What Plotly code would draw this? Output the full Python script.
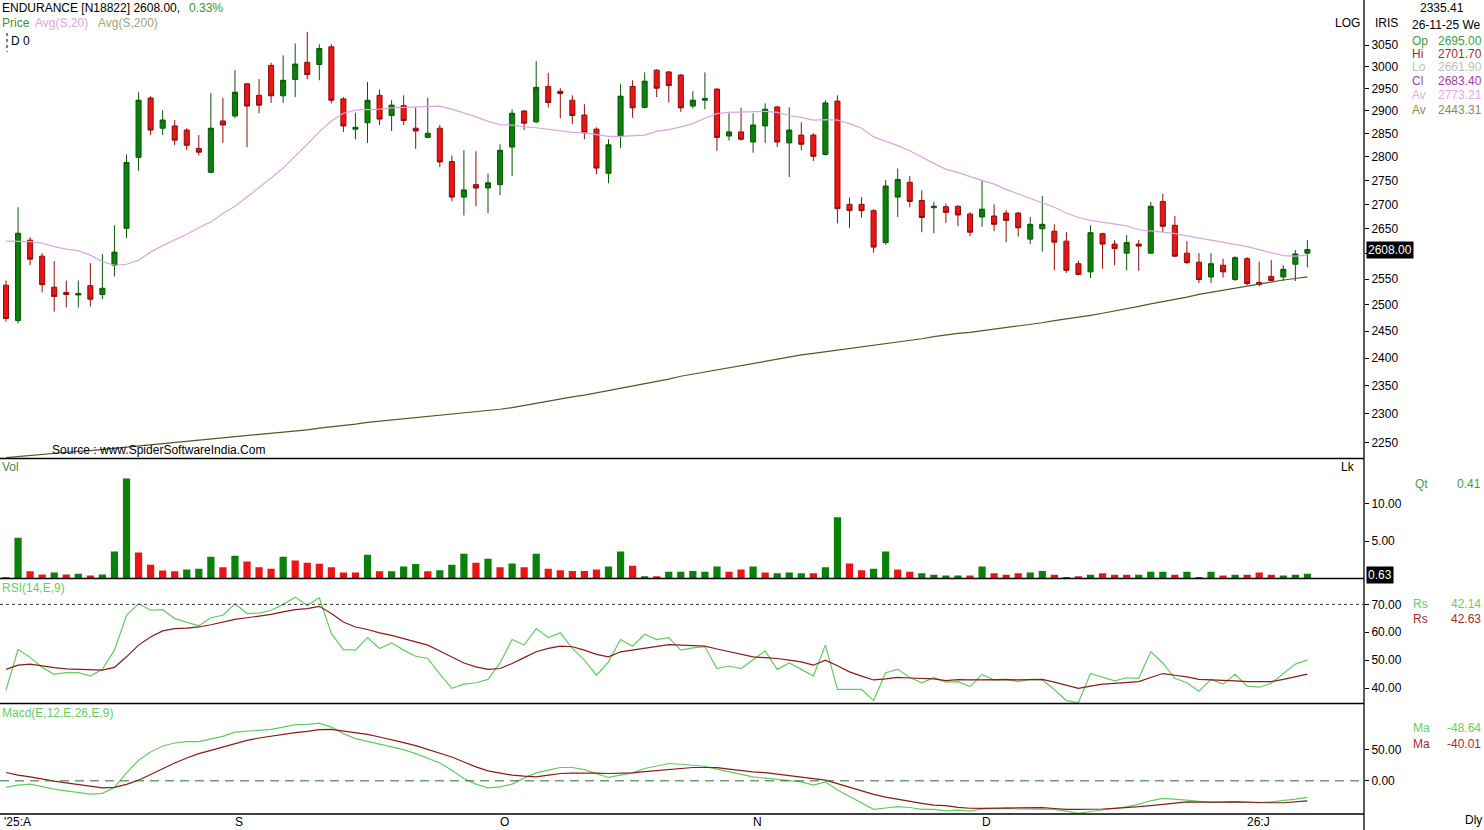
import plotly.graph_objects as go

W, H = 1484, 830

# ---------------- data ----------------
opens = [2538, 2470, 2627, 2595, 2534, 2524, 2519, 2537, 2520, 2577,
         2651, 2799, 2929, 2862, 2867, 2858, 2818, 2767, 2878, 2889,
         2961, 2935, 3003, 2934, 2971, 3010, 3005, 3046, 2927, 2860,
         2874, 2935, 2890, 2912, 2862, 2842, 2862, 2790, 2715, 2741,
         2734, 2741, 2821, 2900, 2876, 2955, 2944, 2924, 2891, 2860,
         2765, 2845, 2955, 2908, 2992, 2988, 2981, 2911, 2924, 2949,
         2845, 2854, 2832, 2867, 2909, 2830, 2847, 2847, 2805, 2922,
         2700, 2700, 2687, 2622, 2715, 2746, 2708, 2693, 2695.0, 2696,
         2680, 2674, 2676, 2682, 2682, 2629, 2650, 2645, 2625, 2580,
         2564, 2640, 2619, 2601, 2619, 2601, 2706, 2657, 2601, 2583,
         2554, 2577, 2549, 2590, 2543, 2555, 2554, 2579, 2601]
highs = [2547, 2694, 2633, 2601, 2585, 2547, 2547, 2581, 2599, 2657,
         2805, 2942, 2933, 2902, 2880, 2862, 2847, 2940, 2929, 2992,
         2962, 2972, 3009, 3026, 3054, 3081, 3052, 3052, 2931, 2896,
         2965, 2948, 2924, 2935, 2908, 2930, 2869, 2803, 2814, 2812,
         2764, 2827, 2904, 2902, 3013, 2986, 2951, 2935, 2915, 2864,
         2838, 2960, 2969, 2987, 2994, 2990, 2983, 2944, 2987, 2951,
         2895, 2907, 2895, 2917, 2911, 2908, 2875, 2851, 2924, 2935,
         2714, 2715, 2690, 2751, 2775, 2759, 2729, 2705, 2701.7, 2698,
         2684, 2750, 2700, 2688, 2684, 2674, 2717, 2659, 2643, 2586,
         2657, 2642, 2627, 2637, 2627, 2705, 2722, 2676, 2625, 2601,
         2601, 2590, 2595, 2593, 2584, 2587, 2577, 2607, 2627]
lows = [2468, 2465, 2577, 2524, 2487, 2495, 2495, 2497, 2511, 2555,
        2631, 2770, 2847, 2847, 2825, 2814, 2803, 2765, 2830, 2884,
        2821, 2895, 2918, 2918, 2931, 2971, 2969, 2917, 2854, 2838,
        2830, 2869, 2856, 2869, 2817, 2840, 2778, 2706, 2677, 2696,
        2682, 2719, 2759, 2858, 2873, 2908, 2884, 2871, 2838, 2763,
        2744, 2819, 2885, 2906, 2931, 2919, 2898, 2906, 2904, 2813,
        2835, 2835, 2809, 2830, 2821, 2757, 2814, 2791, 2803, 2661,
        2652, 2673, 2602, 2618, 2674, 2694, 2643, 2641, 2661.9, 2655,
        2635, 2654, 2645, 2623, 2634, 2619, 2604, 2567, 2562, 2557,
        2552, 2570, 2577, 2567, 2566, 2599, 2643, 2593, 2579, 2542,
        2542, 2553, 2546, 2538, 2536, 2546, 2546, 2546, 2573]
closes = [2474, 2641, 2589, 2539, 2516, 2520, 2522, 2511, 2532, 2603,
          2788, 2924, 2858, 2880, 2836, 2825, 2810, 2862, 2869, 2942,
          2911, 2913, 2934, 2969, 3006, 2982, 3042, 2924, 2867, 2864,
          2924, 2882, 2913, 2879, 2856, 2851, 2789, 2715, 2730, 2734,
          2745, 2814, 2895, 2873, 2953, 2919, 2939, 2890, 2852, 2776,
          2826, 2933, 2907, 2967, 2951, 2957, 2907, 2924, 2928, 2842,
          2854, 2838, 2869, 2904, 2832, 2858, 2827, 2801, 2918, 2691,
          2687, 2687, 2613, 2738, 2752, 2706, 2673, 2696, 2683.4, 2678,
          2643, 2690, 2659, 2667, 2652, 2659, 2659, 2623, 2567, 2559,
          2642, 2619, 2610, 2622, 2615, 2696, 2655, 2595, 2582, 2549,
          2580, 2564, 2592, 2541, 2539, 2547, 2569, 2599.4, 2608.0]

sma20 = [2625, 2625, 2624, 2621, 2614, 2609, 2606, 2597, 2584, 2577,
         2579, 2587, 2603, 2616, 2627, 2639, 2652, 2664, 2681, 2696,
         2715, 2734, 2755, 2776, 2801, 2827, 2854, 2878, 2895, 2902,
         2903, 2904, 2907, 2908, 2908, 2909, 2911, 2904, 2896, 2887,
         2877, 2870, 2869, 2865, 2863, 2860, 2856, 2853, 2852, 2848,
         2844, 2844, 2845, 2847, 2855, 2859, 2865, 2872, 2884, 2894,
         2897, 2898, 2899, 2899, 2897, 2890, 2886, 2880, 2881, 2880,
         2872, 2862, 2843, 2834, 2824, 2813, 2799, 2786, 2773.21, 2767,
         2758, 2750, 2742, 2731, 2722, 2712, 2703, 2694, 2682, 2673,
         2667, 2663, 2659, 2656, 2648, 2646, 2643, 2640, 2635, 2631,
         2627, 2623, 2619, 2614, 2608, 2602, 2596, 2595, 2597]
sma200 = [2224, 2226, 2227, 2229, 2231, 2233, 2235, 2236, 2238, 2240,
          2242, 2244, 2246, 2248, 2250, 2251, 2253, 2255, 2257, 2259,
          2261, 2263, 2265, 2268, 2270, 2272, 2275, 2277, 2280, 2282,
          2285, 2287, 2290, 2292, 2294, 2296, 2298, 2300, 2302, 2304,
          2306, 2308, 2311, 2315, 2318, 2322, 2326, 2330, 2333, 2337,
          2341, 2345, 2350, 2354, 2358, 2362, 2367, 2371, 2375, 2379,
          2383, 2387, 2391, 2395, 2399, 2402, 2406, 2409, 2412, 2415,
          2418, 2420, 2423, 2426, 2429, 2433, 2436, 2440, 2443.31, 2446,
          2448, 2451, 2453, 2456, 2459, 2463, 2466, 2470, 2473, 2477,
          2480, 2484, 2488, 2493, 2497, 2502, 2506, 2511, 2515, 2520,
          2524, 2528, 2533, 2537, 2541, 2544, 2548, 2551, 2554]

volume = [0.2, 5.47, 0.97, 0.53, 0.79, 0.53, 0.62, 0.40, 0.53, 3.62,
          13.4, 3.48, 1.85, 1.06, 0.97, 1.19, 1.32, 2.91, 1.50, 3.05,
          2.29, 1.50, 1.32, 2.91, 2.42, 2.12, 1.99, 1.50, 0.79, 0.79,
          3.18, 0.97, 0.97, 1.59, 1.95, 0.97, 1.10, 1.85, 3.31, 2.12,
          2.65, 1.50, 2.0, 1.5, 3.3, 1.3, 1.1, 1.0, 1.0, 1.2,
          1.6, 3.6, 1.7, 0.3, 0.3, 0.9, 0.9, 1.0, 0.9, 1.6,
          0.9, 1.2, 1.6, 0.8, 0.7, 0.8, 0.7, 0.7, 1.5, 8.2,
          2.0, 1.1, 1.3, 3.6, 1.2, 0.9, 0.7, 0.5, 0.41, 0.4,
          0.4, 1.6, 0.7, 0.5, 0.7, 0.8, 1.0, 0.5, 0.2, 0.3,
          0.5, 0.7, 0.5, 0.5, 0.5, 0.9, 0.9, 0.5, 0.9, 0.2,
          0.9, 0.4, 0.5, 0.5, 0.8, 0.5, 0.4, 0.5, 0.63]
volume_dir = list("RGRRGRGRGG" "GRRRRGGGRG" "RRRGRRRRRR" "GRGGGRGGGR" "GR"
                  "GRGRRRRRGG" "RGRGGGGGRR" "GRGGGRGGRR" "GGRRGGGGRG"
                  "RRRGGRRRGR" "RRGGGRGGGR" "GRRRGGG")

rsi = [39.3, 53.8, 51.0, 47.4, 44.9, 45.5, 45.5, 44.3, 46.7, 53.6,
       66.1, 70.2, 67.9, 68.1, 64.9, 63.7, 62.3, 65.2, 66.1, 70.2,
       66.7, 66.9, 67.9, 70.0, 72.6, 69.6, 72.4, 59.5, 53.8, 53.6,
       58.1, 54.2, 56.2, 53.6, 51.4, 50.6, 45.0, 39.9, 41.4, 41.9,
       43.1, 49.0, 57.4, 55.4, 61.3, 58.1, 59.8, 54.2, 50.0, 44.6,
       49.4, 57.4, 55.0, 59.3, 57.4, 58.1, 53.6, 54.4, 54.8, 47.0,
       47.9, 47.0, 50.2, 53.3, 46.7, 49.0, 46.7, 44.3, 55.4, 39.5,
       39.5, 39.5, 35.5, 45.5, 46.7, 43.8, 41.9, 43.7, 42.14, 42.3,
       40.5, 44.9, 42.9, 43.2, 42.3, 43.1, 42.9, 39.5, 35.5, 34.8,
       45.2, 44.0, 42.6, 43.7, 43.5, 53.0, 49.0, 43.5, 41.9, 38.9,
       43.1, 41.4, 44.9, 40.7, 40.3, 41.7, 45.2, 48.6, 50.0]
rsi_signal = [46.7, 48.2, 48.6, 47.9, 47.3, 46.9, 46.7, 46.4, 46.4, 47.4,
              51.2, 55.4, 58.3, 60.5, 61.3, 61.5, 61.9, 62.7, 63.7, 64.6,
              65.2, 65.7, 66.4, 67.3, 68.1, 68.5, 69.3, 66.7, 63.7, 61.9,
              61.0, 59.8, 58.9, 57.7, 56.5, 55.4, 53.3, 51.0, 49.0, 47.6,
              46.7, 47.0, 48.8, 50.9, 53.0, 54.2, 55.0, 54.8, 53.6, 52.1,
              51.2, 53.0, 53.6, 54.2, 54.9, 55.6, 55.4, 55.2, 55.0, 54.0,
              53.0, 52.1, 51.2, 50.9, 50.6, 50.0, 49.4, 48.2, 50.0, 48.0,
              45.8, 44.3, 42.9, 43.3, 43.8, 43.6, 43.5, 43.3, 42.63, 43.0,
              42.9, 43.0, 43.1, 43.0, 42.9, 43.0, 43.1, 42.1, 41.1, 39.9,
              40.7, 41.4, 41.7, 41.9, 42.3, 43.8, 45.2, 44.6, 44.0, 43.1,
              43.0, 42.9, 42.6, 42.3, 42.3, 42.3, 43.1, 44.0, 45.0]

macd = [-10.6, -6.9, -5.3, -9.7, -13.4, -16.1, -18.7, -21.5, -20.3, -10.6,
        12.9, 33.4, 46.8, 56.5, 61.3, 63.5, 63.5, 68.4, 72.1, 79.0,
        80.6, 81.8, 83.4, 87.1, 91.0, 91.5, 93.5, 87.1, 76.5, 68.4,
        64.0, 59.2, 54.8, 50.6, 44.2, 37.1, 29.0, 17.3, 3.9, -5.3,
        -11.3, -9.7, -5.3, 4.4, 12.9, 17.3, 21.6, 21.6, 18.1, 11.6,
        5.5, 9.2, 12.9, 20.0, 24.0, 28.1, 26.9, 25.3, 23.7, 18.9,
        14.5, 10.5, 6.5, 4.4, 2.3, 0.3, -1.6, -6.9, -1.6, -15.0,
        -25.8, -36.0, -46.1, -44.0, -41.9, -43.2, -46.1, -46.1, -48.64, -47.3,
        -48.9, -45.6, -45.0, -44.5, -45.6, -46.1, -46.1, -46.1, -48.9, -52.6,
        -49.7, -47.3, -44.0, -41.9, -37.6, -32.3, -28.4, -29.5, -31.1, -33.1,
        -34.8, -34.4, -33.9, -34.7, -35.5, -33.9, -32.3, -29.5, -26.8]
macd_signal = [13.5, 9.2, 6.5, 2.7, -0.5, -3.2, -5.8, -8.5, -11.3, -10.6,
               -5.8, 1.1, 10.8, 20.0, 29.0, 37.1, 44.2, 49.5, 54.8, 60.3,
               65.6, 69.4, 72.6, 75.3, 78.1, 80.2, 82.9, 83.4, 80.6, 79.0,
               75.3, 71.0, 66.8, 61.9, 57.1, 51.1, 44.2, 38.7, 30.6, 22.6,
               16.1, 12.9, 9.2, 7.6, 6.5, 9.2, 11.9, 12.4, 12.9, 12.4,
               11.9, 12.4, 12.9, 14.8, 16.5, 18.4, 20.0, 21.6, 21.6, 21.3,
               18.9, 16.1, 14.5, 13.2, 10.8, 9.2, 6.8, 3.9, 1.1, -4.5,
               -10.6, -16.6, -21.9, -26.3, -30.0, -33.2, -36.5, -39.2, -40.01, -42.9,
               -44.4, -44.5, -44.5, -44.5, -44.5, -44.0, -43.5, -44.8, -46.1, -46.1,
               -46.1, -45.6, -44.5, -43.5, -41.9, -40.0, -37.6, -36.0, -33.9, -34.4,
               -34.8, -34.4, -33.9, -34.7, -35.5, -35.5, -35.5, -33.9, -32.3]

month_labels = ["'25:A", "S", "O", "N", "D", "26:J"]
month_index = [0, 19, 41, 62, 81, 103]

price_ticks = list(range(2250, 3051, 50))
vol_ticks = [5, 10]
rsi_ticks = [40, 50, 60, 70]
macd_ticks = [0, 50]

# ---------------- layout helpers ----------------
idx = list(range(len(opens)))
XEND = 1364  # pixel x of right axis line


def px(x):
    return x / W


def py(y):
    return 1 - y / H


FONT = "Tahoma, Liberation Sans, Arial, sans-serif"
GREEN = "#0a820a"
RED = "#ee1414"

fig = go.Figure()

fig.add_trace(go.Candlestick(
    x=idx, open=opens, high=highs, low=lows, close=closes,
    increasing=dict(line=dict(color="#0b560b", width=1), fillcolor=GREEN),
    decreasing=dict(line=dict(color="#8c0e0e", width=1), fillcolor=RED),
    whiskerwidth=0, xaxis="x", yaxis="y", showlegend=False))
fig.add_trace(go.Scatter(x=idx, y=sma20, mode="lines", line=dict(color="#d8a6de", width=1.2),
                         xaxis="x", yaxis="y", hoverinfo="skip"))
fig.add_trace(go.Scatter(x=idx, y=sma200, mode="lines", line=dict(color="#4f5a28", width=1.2),
                         xaxis="x", yaxis="y", hoverinfo="skip"))

vol_colors = [GREEN if d == "G" else RED for d in volume_dir]
fig.add_trace(go.Bar(x=idx, y=volume, marker=dict(color=vol_colors, line=dict(width=0)),
                     width=0.6, xaxis="x", yaxis="y2"))

fig.add_trace(go.Scatter(x=idx, y=rsi, mode="lines", line=dict(color="#62cc62", width=1.2),
                         xaxis="x", yaxis="y3"))
fig.add_trace(go.Scatter(x=idx, y=rsi_signal, mode="lines", line=dict(color="#8b1a1a", width=1.2),
                         xaxis="x", yaxis="y3"))
fig.add_trace(go.Scatter(x=idx, y=macd, mode="lines", line=dict(color="#62cc62", width=1.2),
                         xaxis="x", yaxis="y4"))
fig.add_trace(go.Scatter(x=idx, y=macd_signal, mode="lines", line=dict(color="#8b1a1a", width=1.2),
                         xaxis="x", yaxis="y4"))

XD = XEND / W
x_per = 12.05
xr = [-6 / x_per, (XEND - 6) / x_per]

axis_common = dict(side="right", anchor="x", showgrid=False, zeroline=False, showline=False,
                   ticks="outside", ticklen=4, tickcolor="black",
                   tickfont=dict(family=FONT, size=12, color="black"), fixedrange=True)

fig.update_layout(
    width=W, height=H, margin=dict(l=0, r=0, t=0, b=0),
    paper_bgcolor="white", plot_bgcolor="white", showlegend=False,
    boxgap=0.4,
    xaxis=dict(domain=[0, XD], range=xr, visible=False, rangeslider=dict(visible=False),
               anchor="y4", showgrid=False, zeroline=False, fixedrange=True),
    yaxis=dict(domain=[py(458.5), 1], type="log", range=[3.34686, 3.49930],
               tickvals=price_ticks,
               ticktext=["" if t == 2600 else str(t) for t in price_ticks], **axis_common),
    yaxis2=dict(domain=[py(578.5), py(459)], range=[0, 16.0],
                tickvals=vol_ticks, ticktext=["%.2f" % t for t in vol_ticks], **axis_common),
    yaxis3=dict(domain=[py(703.5), py(579)], range=[34.46, 79.1],
                tickvals=rsi_ticks, ticktext=["%.2f" % t for t in rsi_ticks], **axis_common),
    yaxis4=dict(domain=[py(814), py(704)], range=[-53.7, 124.5],
                tickvals=macd_ticks, ticktext=["%.2f" % t for t in macd_ticks], **axis_common),
)

shapes = []
for yy in [458.5, 578.5, 703.5, 814]:
    shapes.append(dict(type="line", xref="paper", yref="paper", x0=0, x1=XD, y0=py(yy), y1=py(yy),
                       line=dict(color="black", width=1.3)))
shapes.append(dict(type="line", xref="paper", yref="paper", x0=XD, x1=XD, y0=0, y1=1,
                   line=dict(color="black", width=1.3)))
shapes.append(dict(type="line", xref="paper", yref="y3", x0=0, x1=XD, y0=70, y1=70,
                   line=dict(color="#333333", width=1, dash="dot")))
shapes.append(dict(type="line", xref="paper", yref="y4", x0=0, x1=XD, y0=0, y1=0,
                   line=dict(color="#2d6a2d", width=1, dash="9px,6px")))
shapes.append(dict(type="line", xref="paper", yref="paper", x0=px(7), x1=px(7), y0=py(33), y1=py(52),
                   line=dict(color="black", width=1, dash="dot")))
fig.update_layout(shapes=shapes)

ann = []


def text(x, y, s, color="black", anchor="left", size=12, bg=None):
    d = dict(x=px(x), y=py(y), xref="paper", yref="paper", text=s, showarrow=False,
             xanchor=anchor, yanchor="middle", font=dict(family=FONT, size=size, color=color))
    if bg:
        d.update(bgcolor=bg, borderpad=1)
    ann.append(d)


text(0, 8, "ENDURANCE [N18822] 2608.00,")
text(187, 8, "0.33%", "#2f9a2f")
text(0, 23, "Price", "#3f8f3f")
text(33, 23, "Avg(S,20)", "#d8a8dc")
text(96, 23, "Avg(S,200)", "#a3a37a")
text(9, 41, "D 0")
text(50, 450, "Source : www.SpiderSoftwareIndia.Com")

text(1362, 23, "LOG", anchor="right")
text(1373, 23, "IRIS")
text(1418, 8, "2335.41")
text(1483, 25, "26-11-25 We", anchor="right")
rows = [("Op", "2695.00", "#3f9f3f", 41), ("Hi", "2701.70", "#a52a2a", 54),
        ("Lo", "2661.90", "#bdbdbd", 67), ("Cl", "2683.40", "#a43ca4", 81),
        ("Av", "2773.21", "#e3a9e6", 95), ("Av", "2443.31", "#8b8b5b", 110)]
for lab, val, col, yy in rows:
    text(1410, yy, lab, col)
    text(1484, yy, val, col, anchor="right")

text(1366, 250, "2608.00", "white", bg="black")
text(1366, 575, "0.63", "white", bg="black")

text(0, 467, "Vol", "#557755")
text(1357, 467, "Lk", anchor="right")
text(1413, 484, "Qt", "#3f9f3f")
text(1483, 484, "0.41", "#3f9f3f", anchor="right")

text(0, 588, "RSI(14,E,9)", "#66cc66")
text(1411, 604, "Rs", "#66cc66")
text(1483, 604, "42.14", "#66cc66", anchor="right")
text(1411, 619, "Rs", "#a52a2a")
text(1483, 619, "42.63", "#a52a2a", anchor="right")

text(0, 713, "Macd(E,12,E,26,E,9)", "#66cc66")
text(1411, 728, "Ma", "#66cc66")
text(1483, 728, "-48.64", "#66cc66", anchor="right")
text(1411, 744, "Ma", "#a52a2a")
text(1483, 744, "-40.01", "#a52a2a", anchor="right")

text(1463, 820, "Dly")

for lab, i in zip(month_labels, month_index):
    ann.append(dict(x=i, y=py(822), xref="x", yref="paper", text=lab, showarrow=False,
                    xanchor="left", yanchor="middle", xshift=-4 if i == 0 else -2,
                    font=dict(family=FONT, size=12, color="black")))

fig.update_layout(annotations=ann)

fig.write_html("out.html", config={"displayModeBar": False},
               post_script="document.body.style.margin='0';document.body.style.overflow='hidden';")
